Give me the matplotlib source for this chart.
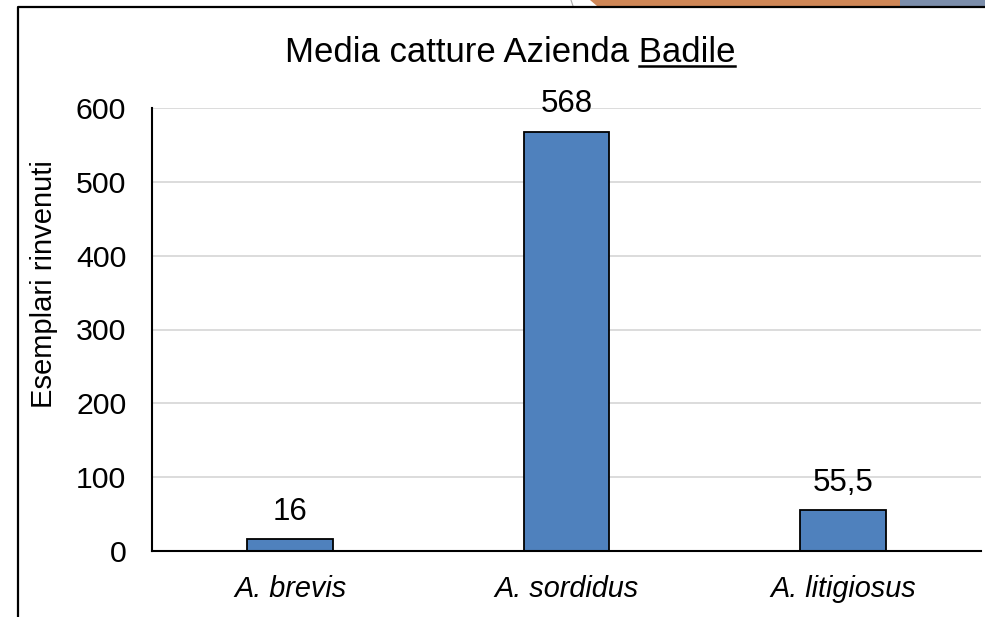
import matplotlib
matplotlib.use("Agg")
import matplotlib.pyplot as plt
from matplotlib.patches import Polygon, Rectangle
from matplotlib.lines import Line2D

plt.rcParams['font.family'] = ['Liberation Sans', 'DejaVu Sans']

species = ["A. brevis", "A. sordidus", "A. litigiosus"]
catture = [16, 568, 55.5]
etichette = ["16", "568", "55,5"]
y_ticks = [0, 100, 200, 300, 400, 500, 600]

W, H = 985, 617
fig = plt.figure(figsize=(W / 100, H / 100), dpi=100)
fig.patch.set_facecolor("white")


def fx(px):
    return px / W


def fy(py):
    return 1 - py / H


# decorative strip along the top edge
fig.patches.append(Polygon([[fx(590), fy(0)], [fx(900), fy(0)], [fx(900), fy(6)], [fx(597), fy(6)]],
                           closed=True, transform=fig.transFigure, facecolor="#CE8656",
                           edgecolor="none", zorder=0))
fig.patches.append(Rectangle((fx(900), fy(6)), fx(985) - fx(900), fy(0) - fy(6),
                             transform=fig.transFigure, facecolor="#7B8DAA",
                             edgecolor="none", zorder=0))
fig.lines.append(Line2D([fx(571), fx(573)], [fy(0), fy(6)], transform=fig.transFigure,
                        color="#AAAAAA", lw=0.8))

# chart frame
fig.lines.append(Line2D([fx(18), fx(18), fx(990)], [fy(620), fy(7), fy(7)],
                        transform=fig.transFigure, color="black", lw=1.6))

ax = fig.add_axes([fx(152), fy(551), fx(981) - fx(152), fy(108) - fy(551)])
x = list(range(len(species)))
bars = ax.bar(x, catture, width=0.31, color="#4F81BD", edgecolor="black", linewidth=1.3, zorder=3)

ax.set_xlim(-0.5, len(species) - 0.5)
ax.set_ylim(0, 600)
ax.set_yticks(y_ticks)
ax.set_yticklabels([str(v) for v in y_ticks])
ax.set_xticks(x)
ax.set_xticklabels(species, style="italic")
ax.tick_params(axis="y", length=0, pad=18.5, labelsize=21.8)
ax.tick_params(axis="x", length=0, pad=17, labelsize=20.8)
ax.grid(axis="y", color="#D9D9D9", linewidth=1.3, zorder=0)
ax.set_axisbelow(True)
for s in ("top", "right"):
    ax.spines[s].set_visible(False)
ax.spines["left"].set_linewidth(1.5)
ax.spines["bottom"].set_linewidth(1.5)
ax.spines["bottom"].set_zorder(4)

for xi, v, lab in zip(x, catture, etichette):
    ax.annotate(lab, (xi, v), xytext=(0, 9), textcoords="offset points",
                ha="center", va="bottom", fontsize=22.5)

ax.set_ylabel("Esemplari rinvenuti", fontsize=21)
ax.yaxis.set_label_coords((58 - 152) / (981 - 152), (551 - 284) / (551 - 108))

# title with underlined company name
title_y = fy(62)
t = fig.text(fx(510), title_y, "Media catture Azienda Badile", ha="center", va="baseline",
             fontsize=25)
fig.canvas.draw()
r = fig.canvas.get_renderer()
bb = t.get_window_extent(r)
tmp = fig.text(0, 0, "Badile", fontsize=25)
wb = tmp.get_window_extent(r).width
tmp.remove()
fig.lines.append(Line2D([fx(bb.x1 - wb), fx(bb.x1)], [fy(65.5), fy(65.5)],
                        transform=fig.transFigure, color="black", lw=1.8))

fig.savefig("out.png", dpi=100)
